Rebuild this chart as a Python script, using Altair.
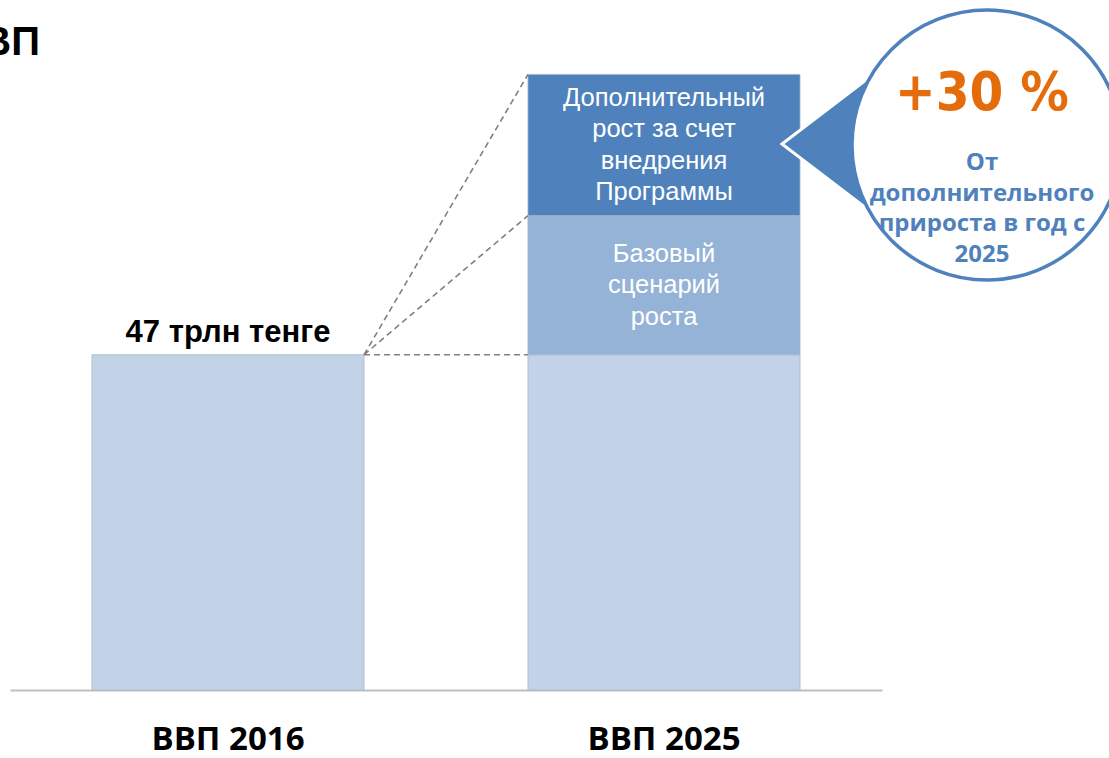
import altair as alt
import pandas as pd

# ---- data ----
categories = ["ВВП 2016", "ВВП 2025"]
gdp_2016 = 47.0          # трлн тенге
base_growth = 19.5       # базовый сценарий роста
extra_growth = 19.8      # дополнительный рост за счет Программы

seg_cat = ["ВВП 2016", "ВВП 2025", "ВВП 2025", "ВВП 2025"]
seg_name = ["base16", "base25", "baseline_growth", "program_growth"]
seg_val = [gdp_2016, gdp_2016, base_growth, extra_growth]
seg_color = ["#C2D3E8", "#C2D3E8", "#95B3D7", "#4F81BD"]
seg_label = [[], [], ["Базовый", "сценарий", "роста"],
             ["Дополнительный", "рост за счет", "внедрения", "Программы"]]

bubble_big = "+30 %"
bubble_text = ["От", "дополнительного", "прироста в год с", "2025"]
value_label = "47 трлн тенге"
title_text = "ВВП"

# build segment table with cumulative bounds
rows = []
acc = {}
for c, n, v, col, lab in zip(seg_cat, seg_name, seg_val, seg_color, seg_label):
    y0 = acc.get(c, 0.0)
    y1 = y0 + v
    acc[c] = y1
    rows.append(dict(cat=c, seg=n, y0=y0, y1=y1, ym=(y0 + y1) / 2, color=col,
                     label=lab, nlines=len(lab)))
seg_df = pd.DataFrame(rows)

tops_2025 = [gdp_2016, gdp_2016 + base_growth, gdp_2016 + base_growth + extra_growth]
lines_df = pd.DataFrame({
    "src": [categories[0]] * 3,
    "dst": [categories[1]] * 3,
    "ys": [gdp_2016] * 3,
    "ye": tops_2025,
})

xscale = alt.Scale(domain=categories, paddingInner=0.376, paddingOuter=0.188)
yscale = alt.Scale(domain=[0, 90])

bars = alt.Chart(seg_df).mark_bar(stroke="#A9B8CC", strokeWidth=0.8).encode(
    x=alt.X("cat:N", scale=xscale, sort=categories,
            axis=alt.Axis(title=None, labelAngle=0, ticks=False,
                          domainColor="#BFBFBF", domainWidth=2,
                          labelFont="Open Sans", labelFontWeight="bold",
                          labelFontSize=33, labelColor="#000000",
                          labelPadding=33, labelBaseline="top")),
    y=alt.Y("y0:Q", scale=yscale, axis=None),
    y2="y1:Q",
    color=alt.Color("color:N", scale=None),
)

dashes = alt.Chart(lines_df).mark_rule(color="#808080", strokeWidth=1.6,
                                       strokeDash=[6, 4]).encode(
    x=alt.X("src:N", scale=xscale, bandPosition=1),
    x2=alt.X2("dst:N", bandPosition=0),
    y=alt.Y("ys:Q", scale=yscale),
    y2="ye:Q",
)

LH = 31.5
seg_layers = []
for _, r in seg_df.iterrows():
    if r["nlines"] == 0:
        continue
    sub = seg_df[seg_df["seg"] == r["seg"]]
    seg_layers.append(
        alt.Chart(sub).mark_text(
            font="Liberation Sans", fontSize=25.5, color="white", lineHeight=LH,
            align="center", baseline="middle",
            dy=-(r["nlines"] - 1) / 2 * LH).encode(
            x=alt.X("cat:N", scale=xscale),
            y=alt.Y("ym:Q", scale=yscale),
            text="label",
        )
    )

val_df = pd.DataFrame({"cat": [categories[0]], "v": [gdp_2016], "t": [value_label]})
val_text = alt.Chart(val_df).mark_text(
    font="Liberation Sans", fontWeight="bold", fontSize=31, color="#000000",
    align="center", baseline="alphabetic", dy=-13).encode(
    x=alt.X("cat:N", scale=xscale),
    y=alt.Y("v:Q", scale=yscale),
    text="t:N",
)

anno = pd.DataFrame({"a": [0]})
triangle = alt.Chart(anno).mark_point(
    shape="M -1 0 L 1 -1.525 L 1 1.525 Z", filled=True, fill="#4F81BD",
    stroke="white", strokeWidth=3, opacity=1).encode(
    x=alt.value(842), y=alt.value(96), size=alt.value(19600))

circle = alt.Chart(anno).mark_point(
    shape="circle", filled=True, fill="white", stroke="#4F81BD",
    strokeWidth=3.5, opacity=1).encode(
    x=alt.value(977), y=alt.value(97), size=alt.value(72900))

big_txt = alt.Chart(pd.DataFrame({"t": [bubble_big]})).mark_text(
    font="DejaVu Sans Condensed", fontWeight="bold", fontSize=54,
    color="#E46C0A", align="center", baseline="alphabetic").encode(
    x=alt.value(972), y=alt.value(62), text="t:N")

small_txt = alt.Chart(pd.DataFrame({"t": [bubble_text]})).mark_text(
    font="Open Sans", fontWeight="bold", fontSize=24, lineHeight=30.5,
    color="#4F81BD", align="center", baseline="alphabetic").encode(
    x=alt.value(972), y=alt.value(122), text="t")

title = alt.Chart(pd.DataFrame({"t": [title_text]})).mark_text(
    font="Liberation Sans", fontWeight="bold", fontSize=40,
    color="#000000", align="right", baseline="alphabetic").encode(
    x=alt.value(30), y=alt.value(7), text="t:N")

chart = alt.layer(bars, dashes, *seg_layers, val_text, triangle, circle,
                  big_txt, small_txt, title).properties(
    width=872, height=642,
    autosize=alt.AutoSizeParams(type="none"),
    padding={"left": 10, "top": 48, "right": 227, "bottom": 68},
    background="white",
).configure_view(stroke=None)

chart.save("out.html", embed_options={"renderer": "svg", "actions": False})
